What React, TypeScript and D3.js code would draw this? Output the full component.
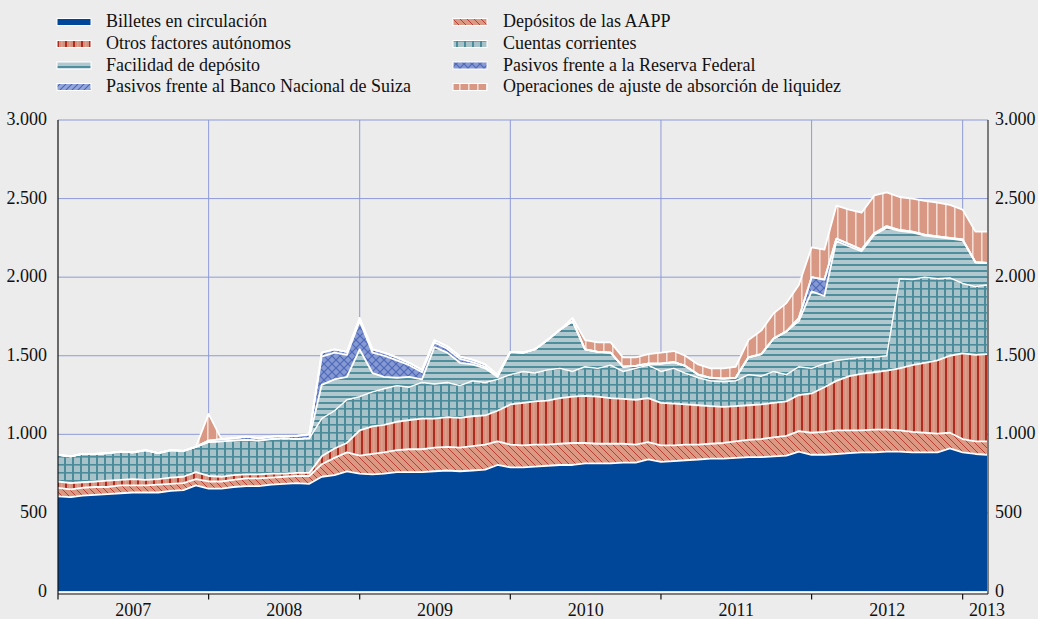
import * as d3 from "d3";

// monthly readings, Jan 2007 .. Mar 2013 (mm EUR)
const billetes = [
  605, 600, 610, 615, 620, 625, 630, 630, 630, 640, 645, 675,
  655, 655, 665, 670, 670, 680, 685, 690, 685, 730, 740, 765,
  750, 745, 750, 760, 760, 760, 765, 770, 765, 770, 775, 805,
  790, 790, 795, 800, 805, 805, 815, 815, 815, 820, 820, 840,
  825, 830, 835, 840, 845, 845, 850, 855, 855, 860, 865, 890,
  870, 870, 875, 880, 885, 885, 890, 890, 885, 885, 885, 910,
  885, 875, 870,
];
const aapp = [
  55, 50, 50, 50, 45, 50, 45, 45, 50, 45, 45, 40,
  45, 45, 45, 50, 50, 45, 45, 45, 50, 80, 110, 120,
  115, 130, 135, 140, 145, 145, 150, 150, 150, 155, 160, 150,
  145, 140, 140, 135, 135, 140, 130, 125, 125, 120, 115, 110,
  105, 100, 100, 95, 95, 100, 105, 110, 115, 120, 125, 130,
  140, 145, 150, 145, 140, 145, 140, 135, 130, 125, 120, 100,
  85, 80, 85,
];
const otros = [
  40, 40, 35, 35, 40, 35, 40, 35, 35, 40, 40, 45,
  35, 30, 30, 25, 25, 25, 20, 20, 20, 50, 60, 60,
  160, 175, 175, 180, 185, 195, 185, 190, 190, 190, 185, 195,
  255, 270, 275, 280, 290, 295, 300, 300, 290, 285, 285, 280,
  270, 265, 255, 250, 240, 230, 225, 220, 220, 220, 220, 230,
  250, 285, 315, 345, 360, 365, 375, 395, 425, 445, 465, 490,
  545, 550, 555,
];
const cuentas = [
  170, 170, 180, 175, 175, 180, 170, 190, 165, 175, 165, 160,
  215, 225, 220, 220, 215, 220, 225, 215, 220, 240, 240, 275,
  215, 220, 230, 230, 210, 230, 220, 220, 205, 225, 210, 200,
  190, 200, 180, 195, 190, 160, 185, 180, 210, 175, 200, 210,
  200, 225, 200, 175, 160, 160, 160, 195, 180, 200, 170, 180,
  160, 150, 130, 110, 105, 95, 95, 570, 545, 545, 520, 495,
  445, 435, 440,
];
const facilidad = [
  0, 0, 0, 0, 0, 0, 0, 0, 0, 0, 0, 0,
  0, 0, 0, 0, 0, 0, 0, 0, 0, 215, 200, 145,
  300, 120, 75, 50, 65, 20, 235, 190, 145, 105, 90, 15,
  145, 120, 150, 190, 245, 320, 110, 105, 80, 30, 15, 10,
  50, 40, 45, 20, 20, 20, 20, 110, 140, 210, 275, 290,
  490, 430, 760, 715, 675, 780, 815, 305, 300, 265, 265, 250,
  275, 155, 140,
];
const fed = [
  0, 0, 0, 0, 0, 0, 0, 0, 0, 0, 0, 0,
  10, 15, 15, 20, 15, 15, 15, 20, 25, 180, 170, 140,
  180, 130, 135, 110, 75, 45, 30, 25, 25, 15, 10, 5,
  0, 0, 0, 0, 0, 0, 0, 0, 0, 0, 0, 0,
  0, 0, 0, 0, 0, 0, 0, 0, 0, 0, 0, 20,
  90, 105, 15, 15, 10, 10, 10, 5, 5, 5, 5, 5,
  5, 0, 0,
];
const bns = [
  0, 0, 0, 0, 0, 0, 0, 0, 0, 0, 0, 0,
  0, 0, 0, 0, 0, 0, 0, 0, 0, 25, 20, 20,
  20, 20, 20, 20, 15, 15, 15, 15, 15, 15, 15, 10,
  0, 0, 0, 0, 0, 0, 0, 0, 0, 0, 0, 0,
  0, 0, 0, 0, 0, 0, 0, 0, 0, 0, 0, 0,
  0, 0, 0, 0, 0, 0, 0, 0, 0, 0, 0, 0,
  0, 0, 0,
];
const operaciones = [
  0, 0, 0, 0, 0, 0, 0, 0, 0, 0, 0, 0,
  170, 0, 0, 0, 0, 0, 0, 0, 0, 0, 0, 0,
  0, 0, 0, 0, 0, 0, 0, 0, 0, 0, 0, 0,
  0, 0, 0, 0, 0, 20, 60, 60, 65, 60, 55, 60,
  70, 70, 65, 65, 60, 65, 70, 110, 150, 160, 180, 210,
  190, 190, 210, 220, 235, 240, 215, 210, 210, 215, 215, 210,
  190, 195, 200,
];

const yTicks = [0, 500, 1000, 1500, 2000, 2500, 3000];
const years = ["2007", "2008", "2009", "2010", "2011", "2012", "2013"];

const keys = ["billetes", "aapp", "otros", "cuentas", "facilidad", "fed", "bns", "operaciones"];

const legendCol1 = [
  { key: "billetes", label: "Billetes en circulación" },
  { key: "otros", label: "Otros factores autónomos" },
  { key: "facilidad", label: "Facilidad de depósito" },
  { key: "bns", label: "Pasivos frente al Banco Nacional de Suiza" },
];
const legendCol2 = [
  { key: "aapp", label: "Depósitos de las AAPP" },
  { key: "cuentas", label: "Cuentas corrientes" },
  { key: "fed", label: "Pasivos frente a la Reserva Federal" },
  { key: "operaciones", label: "Operaciones de ajuste de absorción de liquidez" },
];

const fillOf = (k: string) => (k === "billetes" ? "#00479a" : `url(#p-${k})`);

const fmt = d3.formatLocale({ decimal: ",", thousands: ".", grouping: [3], currency: ["", "€"] }).format(",");

export default function App() {
  const left = 58, right = 987, top = 120, bottom = 591.5;
  const font = "'Liberation Serif', 'Times New Roman', serif";

  const months = d3.timeMonth.range(new Date(2007, 0, 1), new Date(2013, 3, 1));
  const x = d3.scaleTime().domain([new Date(2007, 0, 1), new Date(2013, 2, 1)]).range([left, right]);
  const y = d3.scaleLinear().domain([0, 3000]).range([bottom, top]);

  const table = months.map((date, i) => ({
    date,
    billetes: billetes[i], aapp: aapp[i], otros: otros[i], cuentas: cuentas[i],
    facilidad: facilidad[i], fed: fed[i], bns: bns[i], operaciones: operaciones[i],
  }));
  const series = d3.stack<any>().keys(keys)(table);

  const area = d3.area<any>()
    .x(d => x(d.data.date))
    .y0(d => y(d[0]))
    .y1(d => y(d[1]));
  const topLine = d3.line<any>().x(d => x(d.data.date)).y(d => y(d[1]));

  const yearStarts = years.map(yr => new Date(+yr, 0, 1));
  const end = new Date(2013, 2, 1);

  const gridColor = "#8e9bd6";

  return (
    <svg width={1038} height={619} style={{ position: "absolute", left: 0, top: 0, background: "#ececec" }} fontFamily={font}>
      <defs>
        <pattern id="p-aapp" width="7" height="7" patternUnits="userSpaceOnUse">
          <rect width="7" height="7" fill="#dc9883" />
          <path d="M0,0L7,7M-1,6L1,8M6,-1L8,1" stroke="#b2352a" strokeWidth="0.9" />
        </pattern>
        <pattern id="p-otros" width="8" height="8" patternUnits="userSpaceOnUse">
          <rect width="8" height="8" fill="#d58f7b" />
          <rect x="1" width="2" height="8" fill="#ae2c1f" />
          <rect x="5.5" width="0.8" height="8" fill="#e3b2a3" />
        </pattern>
        <pattern id="p-cuentas" width="8" height="8" patternUnits="userSpaceOnUse">
          <rect width="8" height="8" fill="#a8c2ca" />
          <rect x="0" width="2" height="8" fill="#4b8b9a" />
          <rect y="0" width="8" height="1.6" fill="#4b8b9a" />
        </pattern>
        <pattern id="p-facilidad" width="8" height="6" patternUnits="userSpaceOnUse">
          <rect width="8" height="6" fill="#b1c8cf" />
          <rect y="0" width="8" height="2" fill="#4f8f9d" />
        </pattern>
        <pattern id="p-fed" width="8" height="8" patternUnits="userSpaceOnUse">
          <rect width="8" height="8" fill="#8599d3" />
          <path d="M0,0L8,8M8,0L0,8" stroke="#4e68b8" strokeWidth="1.2" />
        </pattern>
        <pattern id="p-bns" width="6" height="6" patternUnits="userSpaceOnUse">
          <rect width="6" height="6" fill="#93a6da" />
          <path d="M0,6L6,0M-1,1L1,-1M5,7L7,5" stroke="#4a64b6" strokeWidth="1.1" />
        </pattern>
        <pattern id="p-operaciones" width="9" height="8" patternUnits="userSpaceOnUse">
          <rect width="9" height="8" fill="#d99884" />
          <rect x="0" width="1.6" height="8" fill="#f4ddd4" />
        </pattern>
      </defs>

      {/* legend */}
      {[legendCol1, legendCol2].map((col, ci) =>
        col.map((item, ri) => {
          const sx = ci === 0 ? 57 : 453;
          const tx = ci === 0 ? 106 : 503;
          const cy = [22, 44, 65.5, 87][ri];
          return (
            <g key={item.key}>
              <rect x={sx} y={cy - 3.5} width={34} height={7} fill={fillOf(item.key)} stroke="#fff" strokeWidth={1} />
              <text x={tx} y={cy + 5} fontSize={18} fill="#111">{item.label}</text>
            </g>
          );
        })
      )}

      {/* grid */}
      {yTicks.filter(t => t > 0).map(t => (
        <line key={t} x1={left} x2={right + 1} y1={y(t)} y2={y(t)} stroke={gridColor} strokeWidth={1} />
      ))}
      {yearStarts.slice(1).map((d, i) => (
        <line key={i} x1={x(d)} x2={x(d)} y1={top} y2={bottom} stroke={gridColor} strokeWidth={1} />
      ))}

      {/* stacked areas */}
      {series.map(s => (
        <path key={s.key} d={area(s) || ""} fill={fillOf(s.key)} />
      ))}
      <line x1={left} x2={right} y1={bottom + 0.5} y2={bottom + 0.5} stroke="#fff" strokeWidth={1.5} />
      {series.map(s => (
        <path key={"l" + s.key} d={topLine(s) || ""} fill="none" stroke="#fff"
          strokeWidth={s.key === "cuentas" ? 1.4 : 1.8} strokeLinejoin="round" />
      ))}

      {/* axes */}
      <line x1={left} x2={left} y1={top} y2={bottom + 2.5} stroke="#111" strokeWidth={1.2} />
      <line x1={right + 1} x2={right + 1} y1={top} y2={bottom + 2.5} stroke="#333" strokeWidth={1.2} />
      <line x1={left} x2={right + 1} y1={bottom + 2.5} y2={bottom + 2.5} stroke="#111" strokeWidth={1.2} />
      {yearStarts.map((d, i) => (
        <line key={i} x1={x(d)} x2={x(d)} y1={bottom + 2.5} y2={bottom + 8} stroke="#111" strokeWidth={1.2} />
      ))}
      {years.map((yr, i) => {
        const a = yearStarts[i];
        const b = new Date(+yr + 1, 0, 1);
        const mid = Math.min((x(a) + x(b)) / 2, x(end));
        return (
          <text key={yr} x={mid} y={616} fontSize={18} textAnchor="middle" fill="#111">{yr}</text>
        );
      })}
      {yTicks.map(t => (
        <g key={t}>
          <text x={47} y={y(t) + 5} fontSize={18} textAnchor="end" fill="#111">{fmt(t)}</text>
          <text x={995} y={y(t) + 5} fontSize={18} textAnchor="start" fill="#111">{fmt(t)}</text>
        </g>
      ))}
    </svg>
  );
}
